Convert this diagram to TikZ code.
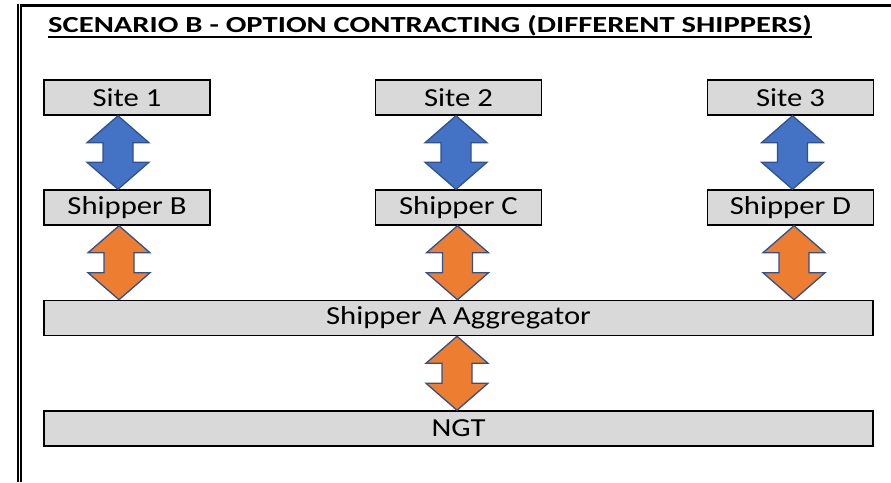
\documentclass[tikz,border=0pt]{standalone}
\usepackage{fontspec}
\setmainfont{Carlito}
\newfontfamily\boxfont[FakeStretch=1.18]{Carlito}
\newfontfamily\headfont[FakeStretch=1.33]{Carlito}
\usetikzlibrary{calc}

\definecolor{boxgray}{HTML}{D9D9D9}
\definecolor{siteblue}{HTML}{4472C4}
\definecolor{shiporange}{HTML}{ED7D31}
\definecolor{edgeblue}{HTML}{2F528F}

\tikzset{
  party/.style={draw, fill=boxgray, line width=1.5pt, inner sep=0pt,
    minimum height=35pt, font=\boxfont\fontsize{26}{30}\selectfont},
  site/.style={party, minimum width=166pt},
  wide/.style={party, minimum width=829pt},
  twoway/.style={draw=edgeblue, line width=1.3pt, line join=miter},
}

% #1 fill, #2 upper node, #3 lower node, #4 sideways shift
\newcommand{\twoway}[4]{%
  \coordinate (tip) at ([xshift=#4pt]#2.south);
  \coordinate (toe) at (tip |- #3.north);
  \draw[twoway, fill=#1] (tip) -- ++(31,27) -- ++(-16,0) -- ($(toe)+(15,-27)$)
    -- ++(16,0) -- (toe) -- ++(-31,-27) -- ++(16,0) -- ($(tip)+(-15,27)$) -- ++(-16,0) -- cycle;}

\begin{document}
\begin{tikzpicture}[x=1pt, y=-1pt]
  \useasboundingbox (0,0) rectangle (891,482);
  \draw[line width=3.3pt] (17,5.7) -- (891,5.7);
  \draw[double, double distance=0.9pt, line width=1.8pt] (19.6,4) -- (19.6,482);

  \node[anchor=base west, inner sep=0pt, font=\headfont\bfseries\fontsize{23}{27}\selectfont] (title) at (48,32)
    {SCENARIO B - OPTION CONTRACTING (DIFFERENT SHIPPERS)};
  \draw[line width=2pt] ([yshift=-5pt]title.base west) -- ([yshift=-5pt]title.base east);

  \node[site] (site1) at (127,97.5) {Site 1};
  \node[site] (site2) at (458.5,97.5) {Site 2};
  \node[site] (site3) at (790.5,97.5) {Site 3};
  \node[site] (shipB) at (127,207.5) {Shipper B};
  \node[site] (shipC) at (458.5,207.5) {Shipper C};
  \node[site] (shipD) at (790.5,207.5) {Shipper D};
  \node[wide] (aggr) at (458.5,318) {Shipper A Aggregator};
  \node[wide] (ngt) at (458.5,428.5) {NGT};

  \twoway{siteblue}{site1}{shipB}{-9}
  \twoway{siteblue}{site2}{shipC}{-2.5}
  \twoway{siteblue}{site3}{shipD}{2}
  \twoway{shiporange}{shipB}{aggr}{-8}
  \twoway{shiporange}{shipC}{aggr}{-1}
  \twoway{shiporange}{shipD}{aggr}{3.5}
  \twoway{shiporange}{aggr}{ngt}{-1.5}
\end{tikzpicture}
\end{document}
